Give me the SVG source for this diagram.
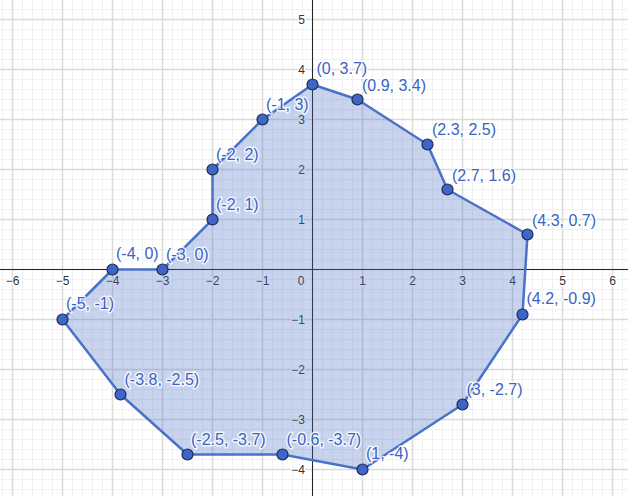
<svg xmlns="http://www.w3.org/2000/svg" width="628" height="496" viewBox="0 0 628 496">
<style>
.tick{font-family:"Liberation Sans",Arial,sans-serif;font-size:12px;fill:#333;stroke:#fff;stroke-width:3;stroke-opacity:0.85;paint-order:stroke;stroke-linejoin:round}
.tx{text-anchor:middle}
.ty{text-anchor:end}
.lbl{font-family:"Liberation Sans",Arial,sans-serif;font-size:16px;fill:#3a63c2;stroke:#fff;stroke-width:3;stroke-opacity:0.8;paint-order:stroke;stroke-linejoin:round}
.pt{fill:#3f66c6;stroke:#1c2a4d;stroke-width:1.2}
.poly{fill:#4a72c8;fill-opacity:0.3;stroke:#4a72c8;stroke-width:2.5;stroke-linejoin:round}
.axis{stroke:#262626;stroke-width:1;fill:none}
</style>
<defs>
<pattern id="minor" patternUnits="userSpaceOnUse" x="0" y="0" width="10" height="10">
<rect x="2" y="0" width="1" height="10" fill="#f1f1f1"/>
<rect x="0" y="9" width="10" height="1" fill="#f1f1f1"/>
</pattern>
<pattern id="major" patternUnits="userSpaceOnUse" x="0" y="0" width="50" height="50">
<rect x="11.75" y="0" width="1.5" height="50" fill="#dadada"/>
<rect x="0" y="18.75" width="50" height="1.5" fill="#dadada"/>
</pattern>
</defs>
<rect width="628" height="496" fill="#fff"/>
<rect width="628" height="496" fill="url(#minor)"/>
<rect width="628" height="496" fill="url(#major)"/>
<path class="axis" d="M312.5 0V496M0 269.5H628"/>
<g id="tick-labels">
<text class="tick tx" x="12.5" y="284.5">−6</text>
<text class="tick tx" x="62.5" y="284.5">−5</text>
<text class="tick tx" x="112.5" y="284.5">−4</text>
<text class="tick tx" x="162.5" y="284.5">−3</text>
<text class="tick tx" x="212.5" y="284.5">−2</text>
<text class="tick tx" x="262.5" y="284.5">−1</text>
<text class="tick tx" x="301" y="284.5">0</text>
<text class="tick tx" x="362.5" y="284.5">1</text>
<text class="tick tx" x="412.5" y="284.5">2</text>
<text class="tick tx" x="462.5" y="284.5">3</text>
<text class="tick tx" x="512.5" y="284.5">4</text>
<text class="tick tx" x="562.5" y="284.5">5</text>
<text class="tick tx" x="612.5" y="284.5">6</text>
<text class="tick ty" x="305" y="23.8">5</text>
<text class="tick ty" x="305" y="73.8">4</text>
<text class="tick ty" x="305" y="123.8">3</text>
<text class="tick ty" x="305" y="173.8">2</text>
<text class="tick ty" x="305" y="223.8">1</text>
<text class="tick ty" x="305" y="323.8">−1</text>
<text class="tick ty" x="305" y="373.8">−2</text>
<text class="tick ty" x="305" y="423.8">−3</text>
<text class="tick ty" x="305" y="473.8">−4</text>
</g>
<g id="connectors">
<polygon class="poly" points="312.5,84.5 357.5,99.5 427.5,144.5 447.5,189.5 527.5,234.5 522.5,314.5 462.5,404.5 362.5,469.5 282.5,454.5 187.5,454.5 120.5,394.5 62.5,319.5 112.5,269.5 162.5,269.5 212.5,219.5 212.5,169.5 262.5,119.5"/>
</g>
<g id="p1"><circle class="pt" cx="312.5" cy="84.5" r="5.5"/><text class="lbl" x="316.5" y="73.5">(0, 3.7)</text></g>
<g id="p2"><circle class="pt" cx="357.5" cy="99.5" r="5.5"/><text class="lbl" x="362" y="91">(0.9, 3.4)</text></g>
<g id="p3"><circle class="pt" cx="427.5" cy="144.5" r="5.5"/><text class="lbl" x="432" y="135">(2.3, 2.5)</text></g>
<g id="p4"><circle class="pt" cx="447.5" cy="189.5" r="5.5"/><text class="lbl" x="452" y="181">(2.7, 1.6)</text></g>
<g id="p5"><circle class="pt" cx="527.5" cy="234.5" r="5.5"/><text class="lbl" x="532" y="226">(4.3, 0.7)</text></g>
<g id="p6"><circle class="pt" cx="522.5" cy="314.5" r="5.5"/><text class="lbl" x="526.5" y="304">(4.2, -0.9)</text></g>
<g id="p7"><circle class="pt" cx="462.5" cy="404.5" r="5.5"/><text class="lbl" x="466.5" y="395">(3, -2.7)</text></g>
<g id="p8"><circle class="pt" cx="362.5" cy="469.5" r="5.5"/><text class="lbl" x="366" y="459">(1, -4)</text></g>
<g id="p9"><circle class="pt" cx="282.5" cy="454.5" r="5.5"/><text class="lbl" x="286.5" y="445">(-0.6, -3.7)</text></g>
<g id="p10"><circle class="pt" cx="187.5" cy="454.5" r="5.5"/><text class="lbl" x="191" y="445">(-2.5, -3.7)</text></g>
<g id="p11"><circle class="pt" cx="120.5" cy="394.5" r="5.5"/><text class="lbl" x="124.5" y="385">(-3.8, -2.5)</text></g>
<g id="p12"><circle class="pt" cx="62.5" cy="319.5" r="5.5"/><text class="lbl" x="66" y="309">(-5, -1)</text></g>
<g id="p13"><circle class="pt" cx="112.5" cy="269.5" r="5.5"/><text class="lbl" x="116" y="259">(-4, 0)</text></g>
<g id="p14"><circle class="pt" cx="162.5" cy="269.5" r="5.5"/><text class="lbl" x="166" y="260">(-3, 0)</text></g>
<g id="p15"><circle class="pt" cx="212.5" cy="219.5" r="5.5"/><text class="lbl" x="216" y="210">(-2, 1)</text></g>
<g id="p16"><circle class="pt" cx="212.5" cy="169.5" r="5.5"/><text class="lbl" x="216" y="160">(-2, 2)</text></g>
<g id="p17"><circle class="pt" cx="262.5" cy="119.5" r="5.5"/><text class="lbl" x="266" y="110">(-1, 3)</text></g>
</svg>
